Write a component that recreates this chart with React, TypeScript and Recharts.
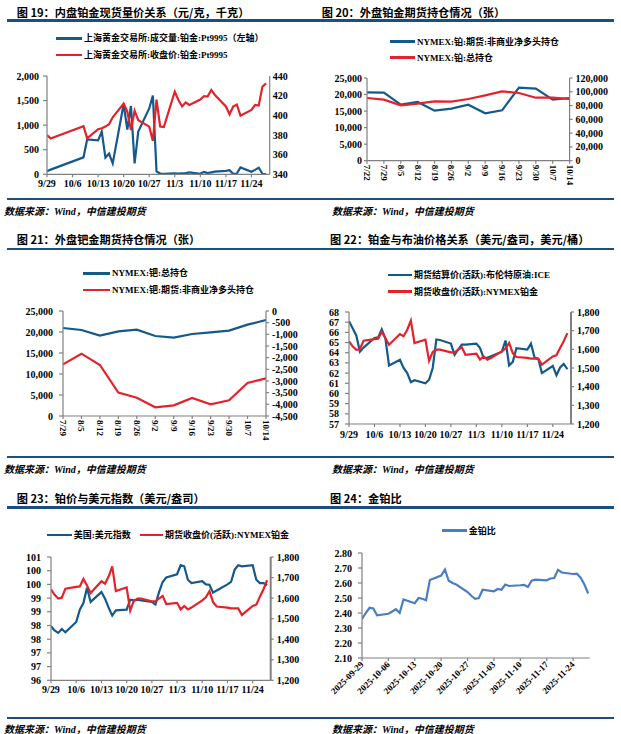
import React from 'react';
import { LineChart, Line, XAxis, YAxis } from 'recharts';

const BLUE = '#14598C';
const RED = '#E2232B';
const RATIO_BLUE = '#4A7EC2';
const RULE = '#1B4F7E';
const AXIS = '#808080';

const NUM_FONT = "'Liberation Serif', 'Times New Roman', serif";
const MIX_FONT = "'Liberation Serif', 'Noto Sans CJK SC', serif";
const CJK_FONT = "'Noto Sans CJK SC', 'Noto Sans', sans-serif";

// ---------- shared x axis (days since 2025-09-29) ----------
const weekTickDays = [0, 7, 14, 21, 28, 35, 42, 49, 56];
const weekLabels = ['9/29', '10/6', '10/13', '10/20', '10/27', '11/3', '11/10', '11/17', '11/24'];
const weekLabelsLong = ['2025-09-29', '2025-10-06', '2025-10-13', '2025-10-20', '2025-10-27', '2025-11-03', '2025-11-10', '2025-11-17', '2025-11-24'];

// ---------- Fig 19 ----------
const cnDays = [0, 1, 10, 11, 14, 15, 16, 17, 18, 21, 22, 23, 24, 25, 28, 29, 30, 31, 32, 35, 36, 37, 38, 39, 42, 43, 44, 45, 46, 49, 50, 51, 52, 53, 56, 57, 58, 59, 60];
const fig19Volume = [60, 95, 345, 710, 690, 870, 340, 420, 220, 1430, 910, 1390, 220, 870, 1340, 1600, 60, 15, 10, 20, 15, 20, 25, 40, 10, 50, 25, 40, 55, 70, 85, 10, 15, 140, 50, 90, 135, 10, 5];
const fig19Price = [380, 376.5, 389, 376.5, 385.8, 386.8, 388.5, 391, 398, 412, 403.7, 385, 404.7, 395, 388.5, 374, 416, 388.5, 388, 424, 415.6, 409, 413, 410.5, 416, 419.6, 419, 425.8, 420.7, 409, 401, 409, 411, 399.7, 405.4, 410.5, 410, 429, 432.5];
const fig19LeftTicks = [0, 500, 1000, 1500, 2000];
const fig19RightTicks = [340, 360, 380, 400, 420, 440];

// ---------- Fig 20 ----------
const fig20Dates = ['7/22', '7/29', '8/5', '8/12', '8/19', '8/26', '9/2', '9/9', '9/16', '9/23', '9/30', '10/7', '10/14'];
const fig20NetLong = [20670, 20560, 16935, 17740, 15120, 15725, 16935, 14315, 15220, 22080, 21770, 18450, 18950];
const fig20OpenInt = [90950, 88530, 80300, 82700, 86100, 85600, 89500, 94800, 100600, 98200, 91400, 91400, 89500];
const fig20LeftTicks = [0, 5000, 10000, 15000, 20000, 25000];
const fig20RightTicks = [0, 20000, 40000, 60000, 80000, 100000, 120000];

// ---------- Fig 21 ----------
const fig21Dates = ['7/29', '8/5', '8/12', '8/19', '8/26', '9/2', '9/9', '9/16', '9/23', '9/30', '10/7', '10/14'];
const fig21OpenInt = [20950, 20480, 19130, 20160, 20560, 19050, 18650, 19520, 19920, 20320, 21750, 22860];
const fig21NetLong = [-2286, -1829, -2314, -3500, -3714, -4129, -4043, -3729, -4000, -3829, -3086, -2886];
const fig21LeftTicks = [0, 5000, 10000, 15000, 20000, 25000];
const fig21RightTicks = [-4500, -4000, -3500, -3000, -2500, -2000, -1500, -1000, -500, 0];

// ---------- Fig 22 / 23 / 24 ----------
const intlDays = [0, 1, 2, 3, 4, 7, 8, 9, 10, 11, 14, 15, 16, 17, 18, 21, 22, 23, 24, 25, 28, 29, 30, 31, 32, 35, 36, 37, 38, 39, 42, 43, 44, 45, 46, 49, 50, 51, 52, 53, 56, 57, 58, 59, 60];
const brent = [67.1, 66.4, 65.7, 64.1, 64.5, 65.45, 65.5, 66.3, 65.4, 62.75, 63.3, 62.5, 62.0, 61.1, 61.3, 61.0, 61.35, 62.5, 65.3, 65.25, 64.9, 63.8, 64.3, 64.8, 64.8, 64.9, 64.45, 63.5, 63.5, 63.65, 64.1, 65.2, 62.75, 63.1, 64.45, 64.3, 64.9, 63.5, 63.4, 62.0, 62.7, 61.8, 62.55, 62.9, 62.4];
const platinum = [1643, 1616, 1598, 1602, 1646, 1655, 1657, 1693, 1661, 1625, 1682, 1670, 1705, 1754, 1634, 1652, 1539, 1586, 1598, 1598, 1584, 1584, 1598, 1611, 1571, 1577, 1545, 1562, 1545, 1554, 1589, 1604, 1634, 1580, 1559, 1554, 1550, 1550, 1550, 1518, 1562, 1568, 1607, 1643, 1687];
const dollarIndex = [97.97, 97.82, 97.73, 97.87, 97.75, 98.13, 98.58, 98.82, 99.38, 98.86, 99.22, 98.98, 98.65, 98.36, 98.55, 98.58, 98.94, 98.92, 98.94, 98.92, 98.86, 98.77, 99.22, 99.59, 99.75, 99.87, 100.2, 100.16, 99.67, 99.55, 99.62, 99.5, 99.49, 99.2, 99.28, 99.5, 99.59, 100.04, 100.2, 100.16, 100.2, 99.67, 99.55, 99.55, 99.47];
const goldPlatRatio = [2.36, 2.40, 2.435, 2.43, 2.385, 2.395, 2.41, 2.425, 2.40, 2.49, 2.465, 2.50, 2.495, 2.485, 2.62, 2.65, 2.69, 2.615, 2.60, 2.59, 2.54, 2.515, 2.495, 2.50, 2.555, 2.545, 2.56, 2.555, 2.59, 2.58, 2.585, 2.588, 2.573, 2.615, 2.622, 2.618, 2.63, 2.633, 2.688, 2.67, 2.66, 2.662, 2.635, 2.59, 2.53];
const fig22LeftTicks = [57, 58, 59, 60, 61, 62, 63, 64, 65, 66, 67, 68];
const platTicks = [1200, 1300, 1400, 1500, 1600, 1700, 1800];
const fig23LeftTicks = [96, 96.5, 97, 97.5, 98, 98.5, 99, 99.5, 100, 100.5];
const fig24Ticks = [2.1, 2.2, 2.3, 2.4, 2.5, 2.6, 2.7, 2.8];

const fig19Data = cnDays.map((d, i) => ({ d, vol: fig19Volume[i], price: fig19Price[i] }));
const fig20Data = fig20Dates.map((date, i) => ({ date, net: fig20NetLong[i], oi: fig20OpenInt[i] }));
const fig21Data = fig21Dates.map((date, i) => ({ date, oi: fig21OpenInt[i], net: fig21NetLong[i] }));
const intlData = intlDays.map((d, i) => ({ d, brent: brent[i], plat: platinum[i], dxy: dollarIndex[i], ratio: goldPlatRatio[i] }));

const fmtComma = (v: number) => v.toLocaleString('en-US');
const weekFmt = (v: number) => weekLabels[weekTickDays.indexOf(v)] ?? '';
const tickStyle = { fontFamily: NUM_FONT, fontSize: 10, fontWeight: 700, fill: '#000' };

const LW = 50, RW = 50, MT = 6, XH = 50;
type Box = { x0: number; x1: number; y0: number; y1: number };
const place = (b: Box): React.CSSProperties => ({ position: 'absolute', left: b.x0 - LW, top: b.y0 - MT });
const W = (b: Box) => b.x1 - b.x0 + LW + RW;
const H = (b: Box) => b.y1 - b.y0 + MT + XH;
const margin = { top: MT, right: 0, bottom: 0, left: 0 };
const axisLine = { stroke: AXIS, strokeWidth: 1.2 };

const RotTick90 = (props: any) => {
  const { x, y, payload } = props;
  return (
    <text x={x} y={y} transform={`rotate(90 ${x} ${y})`} textAnchor="start" dominantBaseline="central"
      style={{ fontFamily: NUM_FONT, fontSize: 9, fontWeight: 700, fill: '#000' }}>{payload.value}</text>
  );
};

const RotTick45 = (props: any) => {
  const { x, y, payload } = props;
  const label = weekLabelsLong[weekTickDays.indexOf(payload.value)] ?? '';
  return (
    <text x={x} y={y} transform={`rotate(-45 ${x} ${y})`} textAnchor="end" dominantBaseline="central"
      style={{ fontFamily: NUM_FONT, fontSize: 9, fontWeight: 700, fill: '#000' }}>{label}</text>
  );
};

function Title({ x, y, text }: { x: number; y: number; text: string }) {
  return <div style={{ position: 'absolute', left: x, top: y - 8, fontFamily: CJK_FONT, fontWeight: 700, fontSize: 11.2, lineHeight: '16px', whiteSpace: 'nowrap', color: '#000' }}>{text}</div>;
}
function Rule({ y }: { y: number }) {
  return <div style={{ position: 'absolute', left: 7, top: y - 1.25, width: 607, height: 2.5, background: RULE }} />;
}
function Source({ x, y }: { x: number; y: number }) {
  return <div style={{ position: 'absolute', left: x, top: y - 8, fontFamily: MIX_FONT, fontStyle: 'italic', fontWeight: 700, fontSize: 10, lineHeight: '16px', whiteSpace: 'nowrap', color: '#000' }}>数据来源：Wind，中信建投期货</div>;
}
function LegendItem({ x, y, len, color, text }: { x: number; y: number; len: number; color: string; text: string }) {
  return (
    <div style={{ position: 'absolute', left: x, top: y - 8, height: 16, display: 'flex', alignItems: 'center', whiteSpace: 'nowrap' }}>
      <div style={{ width: len, height: 2.5, background: color }} />
      <span style={{ marginLeft: 2, fontFamily: MIX_FONT, fontSize: 9, fontWeight: 700, color: '#000', lineHeight: '16px' }}>{text}</span>
    </div>
  );
}

const b19: Box = { x0: 47.3, x1: 270, y0: 76, y1: 174.3 };
const b20: Box = { x0: 366.7, x1: 569.3, y0: 78.3, y1: 161 };
const b21: Box = { x0: 62.7, x1: 265.7, y0: 310.7, y1: 415.7 };
const b22: Box = { x0: 349, x1: 571, y0: 312.3, y1: 424.3 };
const b23: Box = { x0: 51, x1: 270.7, y0: 556.7, y1: 680 };
const b24: Box = { x0: 362.3, x1: 590, y0: 553.3, y1: 658.3 };

export default function App() {
  return (
    <div style={{ position: 'absolute', left: 0, top: 0, width: 621, height: 734, background: '#fff', overflow: 'hidden' }}>
      {/* Row 1 */}
      <Title x={16.7} y={12} text="图 19：内盘铂金现货量价关系（元/克，千克）" />
      <Title x={321.7} y={12} text="图 20：外盘铂金期货持仓情况（张）" />
      <Rule y={20.7} />
      <LegendItem x={56} y={38.3} len={26} color={BLUE} text="上海黄金交易所:成交量:铂金:Pt9995（左轴）" />
      <LegendItem x={56} y={55} len={26} color={RED} text="上海黄金交易所:收盘价:铂金:Pt9995" />
      <LegendItem x={390} y={41.7} len={25} color={BLUE} text="NYMEX:铂:期货:非商业净多头持仓" />
      <LegendItem x={390} y={57.7} len={25} color={RED} text="NYMEX:铂:总持仓" />

      <div style={place(b19)}>
        <LineChart width={W(b19)} height={H(b19)} data={fig19Data} margin={margin}>
          <XAxis type="number" dataKey="d" domain={[0, 61]} ticks={weekTickDays} tickFormatter={weekFmt} interval={0} allowDataOverflow
            height={XH} tick={tickStyle} tickSize={3} tickMargin={3} axisLine={axisLine} tickLine={axisLine} />
          <YAxis yAxisId="l" domain={[0, 2000]} ticks={fig19LeftTicks} tickFormatter={fmtComma} interval={0} width={LW}
            tick={tickStyle} tickSize={4} tickMargin={4} axisLine={axisLine} tickLine={axisLine} allowDataOverflow />
          <YAxis yAxisId="r" orientation="right" domain={[340, 440]} ticks={fig19RightTicks} interval={0} width={RW}
            tick={tickStyle} tickSize={0} tickMargin={3} axisLine={axisLine} tickLine={false} allowDataOverflow />
          <Line yAxisId="l" dataKey="vol" stroke={BLUE} strokeWidth={2.2} dot={false} isAnimationActive={false} type="linear" />
          <Line yAxisId="r" dataKey="price" stroke={RED} strokeWidth={2.2} dot={false} isAnimationActive={false} type="linear" />
        </LineChart>
      </div>

      <div style={place(b20)}>
        <LineChart width={W(b20)} height={H(b20)} data={fig20Data} margin={margin}>
          <XAxis dataKey="date" interval={0} height={XH} tick={<RotTick90 />} tickSize={3} tickMargin={1} axisLine={axisLine} tickLine={axisLine} />
          <YAxis yAxisId="l" domain={[0, 25000]} ticks={fig20LeftTicks} tickFormatter={fmtComma} interval={0} width={LW}
            tick={tickStyle} tickSize={3} tickMargin={2} axisLine={axisLine} tickLine={axisLine} />
          <YAxis yAxisId="r" orientation="right" domain={[0, 120000]} ticks={fig20RightTicks} tickFormatter={fmtComma} interval={0} width={RW}
            tick={tickStyle} tickSize={3} tickMargin={3} axisLine={axisLine} tickLine={axisLine} />
          <Line yAxisId="l" dataKey="net" stroke={BLUE} strokeWidth={2.2} dot={false} isAnimationActive={false} type="linear" />
          <Line yAxisId="r" dataKey="oi" stroke={RED} strokeWidth={2.2} dot={false} isAnimationActive={false} type="linear" />
        </LineChart>
      </div>

      <Rule y={199} />
      <Source x={4} y={212} />
      <Source x={332} y={212} />

      {/* Row 2 */}
      <Title x={16.7} y={239} text="图 21：外盘钯金期货持仓情况（张）" />
      <Title x={330} y={239} text="图 22：铂金与布油价格关系（美元/盎司，美元/桶）" />
      <Rule y={249} />
      <LegendItem x={83} y={273.3} len={27} color={BLUE} text="NYMEX:钯:总持仓" />
      <LegendItem x={83} y={290} len={27} color={RED} text="NYMEX:钯:期货:非商业净多头持仓" />
      <LegendItem x={388} y={275} len={24} color={BLUE} text="期货结算价(活跃):布伦特原油:ICE" />
      <LegendItem x={388} y={291.7} len={24} color={RED} text="期货收盘价(活跃):NYMEX铂金" />

      <div style={place(b21)}>
        <LineChart width={W(b21)} height={H(b21)} data={fig21Data} margin={margin}>
          <XAxis dataKey="date" interval={0} height={XH} tick={<RotTick90 />} tickSize={3} tickMargin={1} axisLine={axisLine} tickLine={axisLine} />
          <YAxis yAxisId="l" domain={[0, 25000]} ticks={fig21LeftTicks} tickFormatter={fmtComma} interval={0} width={LW}
            tick={tickStyle} tickSize={4} tickMargin={6} axisLine={axisLine} tickLine={axisLine} />
          <YAxis yAxisId="r" orientation="right" domain={[-4500, 0]} ticks={fig21RightTicks} tickFormatter={fmtComma} interval={0} width={RW}
            tick={{ ...tickStyle, textAnchor: 'start' }} tickSize={3} tickMargin={3} axisLine={axisLine} tickLine={axisLine} />
          <Line yAxisId="l" dataKey="oi" stroke={BLUE} strokeWidth={2.2} dot={false} isAnimationActive={false} type="linear" />
          <Line yAxisId="r" dataKey="net" stroke={RED} strokeWidth={2.2} dot={false} isAnimationActive={false} type="linear" />
        </LineChart>
      </div>

      <div style={place(b22)}>
        <LineChart width={W(b22)} height={H(b22)} data={intlData} margin={margin}>
          <XAxis type="number" dataKey="d" domain={[0, 61]} ticks={weekTickDays} tickFormatter={weekFmt} interval={0} allowDataOverflow
            height={XH} tick={tickStyle} tickSize={3} tickMargin={4} axisLine={axisLine} tickLine={axisLine} />
          <YAxis yAxisId="l" domain={[57, 68]} ticks={fig22LeftTicks} interval={0} width={LW}
            tick={tickStyle} tickSize={4} tickMargin={6} axisLine={axisLine} tickLine={axisLine} allowDataOverflow />
          <YAxis yAxisId="r" orientation="right" domain={[1200, 1800]} ticks={platTicks} tickFormatter={fmtComma} interval={0} width={RW}
            tick={tickStyle} tickSize={3} tickMargin={3} axisLine={{ stroke: AXIS, strokeWidth: 2 }} tickLine={axisLine} allowDataOverflow />
          <Line yAxisId="l" dataKey="brent" stroke={BLUE} strokeWidth={2.2} dot={false} isAnimationActive={false} type="linear" />
          <Line yAxisId="r" dataKey="plat" stroke={RED} strokeWidth={2.2} dot={false} isAnimationActive={false} type="linear" />
        </LineChart>
      </div>

      <Rule y={457} />
      <Source x={4} y={470} />
      <Source x={332} y={470} />

      {/* Row 3 */}
      <Title x={16.7} y={498} text="图 23：铂价与美元指数（美元/盎司）" />
      <Title x={330} y={498} text="图 24：金铂比" />
      <Rule y={507.7} />
      <LegendItem x={46.7} y={535} len={25} color={BLUE} text="美国:美元指数" />
      <LegendItem x={140} y={535} len={23} color={RED} text="期货收盘价(活跃):NYMEX铂金" />
      <LegendItem x={441.7} y={530.7} len={25} color={RATIO_BLUE} text="金铂比" />

      <div style={place(b23)}>
        <LineChart width={W(b23)} height={H(b23)} data={intlData} margin={margin}>
          <XAxis type="number" dataKey="d" domain={[0, 61]} ticks={weekTickDays} tickFormatter={weekFmt} interval={0} allowDataOverflow
            height={XH} tick={tickStyle} tickSize={3} tickMargin={3} axisLine={axisLine} tickLine={axisLine} />
          <YAxis yAxisId="l" domain={[96, 100.5]} ticks={fig23LeftTicks} tickFormatter={(v: number) => String(Math.round(v))} interval={0} width={LW}
            tick={tickStyle} tickSize={4} tickMargin={6} axisLine={axisLine} tickLine={axisLine} allowDataOverflow />
          <YAxis yAxisId="r" orientation="right" domain={[1200, 1800]} ticks={platTicks} tickFormatter={fmtComma} interval={0} width={RW}
            tick={tickStyle} tickSize={3} tickMargin={3} axisLine={{ stroke: AXIS, strokeWidth: 2 }} tickLine={axisLine} allowDataOverflow />
          <Line yAxisId="l" dataKey="dxy" stroke={BLUE} strokeWidth={2.2} dot={false} isAnimationActive={false} type="linear" />
          <Line yAxisId="r" dataKey="plat" stroke={RED} strokeWidth={2.2} dot={false} isAnimationActive={false} type="linear" />
        </LineChart>
      </div>

      <div style={place(b24)}>
        <LineChart width={W(b24) - RW} height={H(b24)} data={intlData} margin={margin}>
          <XAxis type="number" dataKey="d" domain={[0, 60.4]} ticks={weekTickDays} interval={0} allowDataOverflow
            height={XH} tick={<RotTick45 />} tickSize={3} tickMargin={2} axisLine={axisLine} tickLine={axisLine} />
          <YAxis domain={[2.1, 2.8]} ticks={fig24Ticks} tickFormatter={(v: number) => v.toFixed(2)} interval={0} width={LW}
            tick={tickStyle} tickSize={4} tickMargin={6} axisLine={axisLine} tickLine={axisLine} allowDataOverflow />
          <Line dataKey="ratio" stroke={RATIO_BLUE} strokeWidth={2.2} dot={false} isAnimationActive={false} type="linear" />
        </LineChart>
      </div>

      <Rule y={718} />
      <Source x={4} y={729.5} />
      <Source x={332} y={729.5} />
    </div>
  );
}
